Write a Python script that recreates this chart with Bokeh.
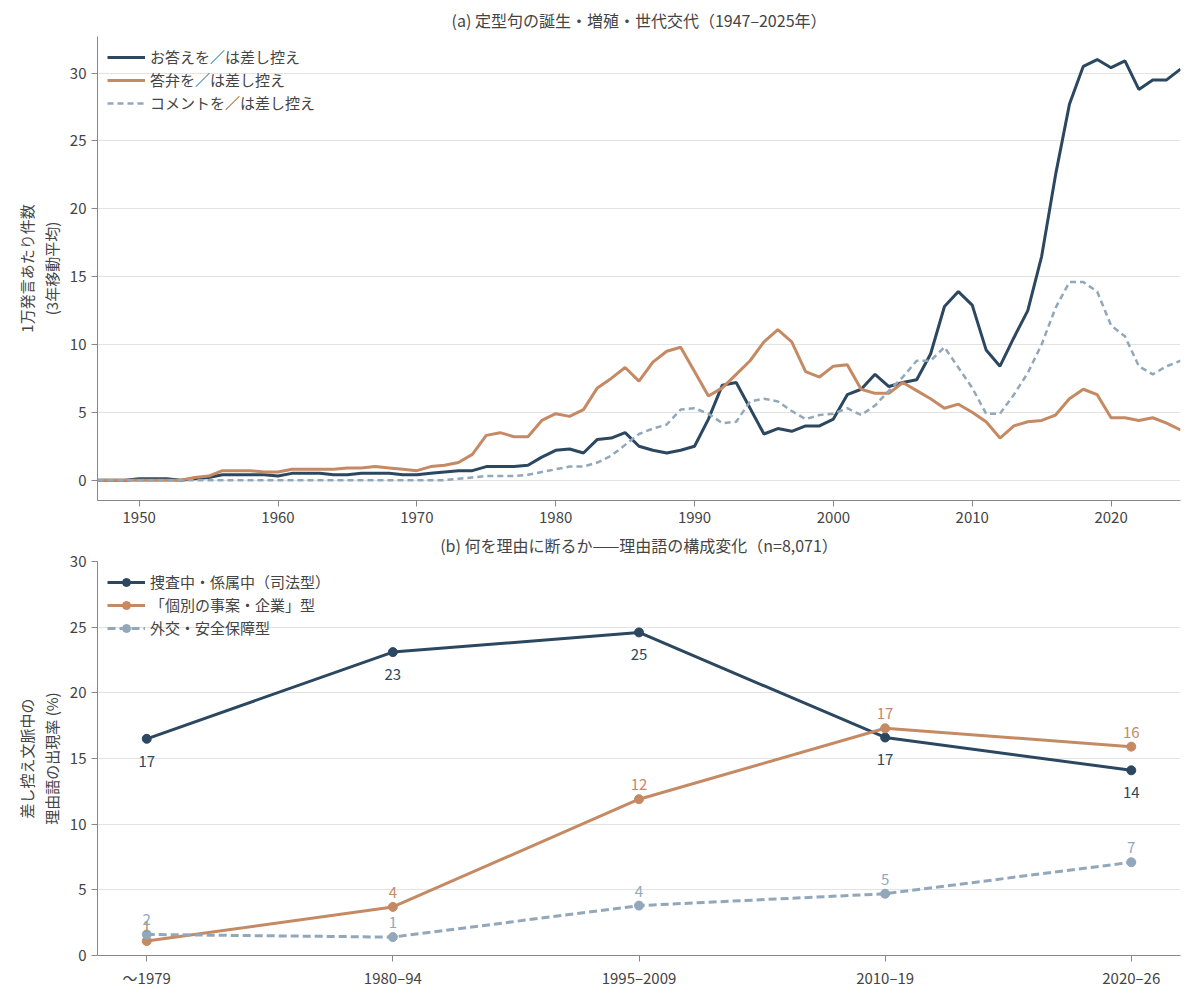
from bokeh.plotting import figure
from bokeh.layouts import column
from bokeh.models import Legend, FixedTicker, Range1d, ColumnDataSource, LabelSet
from bokeh.core.properties import value
from bokeh.embed import file_html
from bokeh.resources import INLINE

FONT = "Noto Sans CJK JP"
DARK = "#2c4760"
ORANGE = "#c58a63"
LIGHT = "#92a8ba"

years = list(range(1947, 2026))
okotae = [0, 0, 0, 0.1, 0.1, 0.1, 0, 0.1, 0.2, 0.4, 0.4, 0.4, 0.4, 0.3, 0.5, 0.5, 0.5, 0.4, 0.4, 0.5,
          0.5, 0.5, 0.4, 0.4, 0.5, 0.6, 0.7, 0.7, 1.0, 1.0, 1.0, 1.1, 1.7, 2.2, 2.3, 2.0, 3.0, 3.1, 3.5,
          2.5, 2.2, 2.0, 2.2, 2.5, 4.5, 7.0, 7.2, 5.3, 3.4, 3.8, 3.6, 4.0, 4.0, 4.5, 6.3, 6.7, 7.8, 6.9,
          7.2, 7.4, 9.3, 12.8, 13.9, 12.9, 9.6, 8.4, 10.5, 12.5, 16.5, 22.5, 27.7, 30.5, 31.0, 30.4,
          30.9, 28.8, 29.5, 29.5, 30.3]
toben = [0, 0, 0, 0, 0, 0, 0, 0.2, 0.3, 0.7, 0.7, 0.7, 0.6, 0.6, 0.8, 0.8, 0.8, 0.8, 0.9, 0.9,
         1.0, 0.9, 0.8, 0.7, 1.0, 1.1, 1.3, 1.9, 3.3, 3.5, 3.2, 3.2, 4.4, 4.9, 4.7, 5.2, 6.8, 7.5, 8.3,
         7.3, 8.7, 9.5, 9.8, 8.0, 6.2, 6.8, 7.8, 8.8, 10.2, 11.1, 10.2, 8.0, 7.6, 8.4, 8.5, 6.7, 6.4, 6.4,
         7.2, 6.6, 6.0, 5.3, 5.6, 5.0, 4.3, 3.1, 4.0, 4.3, 4.4, 4.8, 6.0, 6.7, 6.3, 4.6, 4.6, 4.4, 4.6,
         4.2, 3.7]
comment = [0] * 26 + [0.1, 0.2, 0.3, 0.3, 0.3, 0.4, 0.6, 0.8, 1.0, 1.0, 1.3, 1.8, 2.6, 3.4, 3.8, 4.1,
           5.2, 5.3, 4.9, 4.2, 4.3, 5.8, 6.0, 5.8, 5.1, 4.5, 4.8, 4.9, 5.3, 4.8, 5.5, 6.6, 7.6, 8.8,
           8.8, 9.8, 8.3, 6.8, 4.9, 4.9, 6.3, 7.9, 10.0, 12.7, 14.6, 14.6, 13.9, 11.4, 10.6, 8.4, 7.8,
           8.4, 8.8]

periods = ["〜1979", "1980–94", "1995–2009", "2010–19", "2020–26"]
sousa = [16.5, 23.1, 24.6, 16.6, 14.1]
sousa_lbl = ["17", "23", "25", "17", "14"]
kobetsu = [1.1, 3.7, 11.9, 17.3, 15.9]
kobetsu_lbl = ["1", "4", "12", "17", "16"]
gaiko = [1.6, 1.4, 3.8, 4.7, 7.1]
gaiko_lbl = ["2", "1", "4", "5", "7"]


def style(p):
    p.title.text_font = FONT
    p.title.text_font_size = "16px"
    p.title.text_font_style = "normal"
    p.title.align = "center"
    p.outline_line_color = None
    p.xgrid.grid_line_color = None
    p.ygrid.grid_line_color = "#e3e3e3"
    for ax in (p.xaxis, p.yaxis):
        ax.axis_line_color = "#888888"
        ax.major_tick_line_color = "#888888"
        ax.minor_tick_line_color = None
        ax.major_label_text_font = FONT
        ax.major_label_text_font_size = "15px"
        ax.major_label_text_color = "#444444"
        ax.axis_label_text_font = FONT
        ax.axis_label_text_font_size = "15px"
        ax.axis_label_text_font_style = "normal"
    p.xaxis.major_tick_in = 0
    p.yaxis.major_tick_in = 0


def legend(p, items):
    lg = Legend(items=items, location="top_left", border_line_color=None,
                background_fill_alpha=0, label_text_font=FONT, label_text_font_size="15px",
                spacing=2, padding=4, glyph_width=38)
    p.add_layout(lg)


p1 = figure(width=1184, height=525, output_backend="svg", toolbar_location=None,
            title="(a) 定型句の誕生・増殖・世代交代（1947–2025年）",
            x_range=Range1d(1947, 2025), y_range=Range1d(-1.5, 32.7),
            y_axis_label="1万発言あたり件数\n(3年移動平均)", min_border_right=4, min_border_left=97)
style(p1)
p1.xaxis.ticker = FixedTicker(ticks=list(range(1950, 2030, 10)))
p1.yaxis.ticker = FixedTicker(ticks=[0, 5, 10, 15, 20, 25, 30])
r1 = p1.line(years, okotae, color=DARK, line_width=3)
r2 = p1.line(years, toben, color=ORANGE, line_width=3)
r3 = p1.line(years, comment, color=LIGHT, line_width=2.5, line_dash="6 4")
legend(p1, [("お答えを／は差し控え", [r1]), ("答弁を／は差し控え", [r2]),
            ("コメントを／は差し控え", [r3])])

p2 = figure(width=1184, height=465, output_backend="svg", toolbar_location=None,
            title="(b) 何を理由に断るか——理由語の構成変化（n=8,071）",
            x_range=Range1d(-0.2, 4.2), y_range=Range1d(0, 30),
            y_axis_label="差し控え文脈中の\n理由語の出現率 (%)", min_border_right=4, min_border_left=97)
style(p2)
xs = list(range(len(periods)))
p2.xaxis.ticker = FixedTicker(ticks=xs)
p2.xaxis.major_label_overrides = {i: s for i, s in enumerate(periods)}
p2.yaxis.ticker = FixedTicker(ticks=[0, 5, 10, 15, 20, 25, 30])

items = []
for vals, lbl, col, dash, name, off in [(sousa, sousa_lbl, DARK, "solid", "捜査中・係属中（司法型）", -28),
                                        (kobetsu, kobetsu_lbl, ORANGE, "solid", "「個別の事案・企業」型", 9),
                                        (gaiko, gaiko_lbl, LIGHT, "8 4", "外交・安全保障型", 9)]:
    src = ColumnDataSource(dict(x=xs, y=vals, t=lbl))
    ln = p2.line("x", "y", source=src, color=col, line_width=3, line_dash=dash)
    sc = p2.scatter("x", "y", source=src, color=col, size=9)
    items.append((name, [ln, sc]))
    p2.add_layout(LabelSet(x="x", y="y", text="t", source=src, y_offset=off,
                           text_align="center", text_color=col, text_font=value(FONT),
                           text_font_size="15px"))
legend(p2, items)

p = column(p1, p2)
open("out.html", "w").write(file_html(p, INLINE))
